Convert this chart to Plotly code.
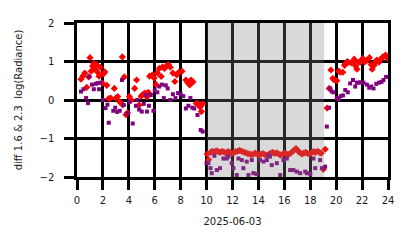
import plotly.graph_objects as go

# Red series (diamonds): diff 1.6
red_x = [0.31, 0.45, 0.6, 0.75, 0.9, 1.0, 1.1, 1.2, 1.3, 1.4, 1.5, 1.6, 1.7, 1.8, 1.95, 2.05, 2.15, 2.3, 2.45, 2.6,
         2.88, 3.0, 3.14, 3.3, 3.5, 3.53, 3.65, 3.78, 3.9, 4.04, 4.2, 4.45, 4.6, 4.8, 4.95, 5.1, 5.25, 5.4, 5.5, 5.6,
         5.8, 5.95, 6.1, 6.2, 6.35, 6.5, 6.6, 6.75, 6.9, 7.05, 7.2, 7.4, 7.55, 7.7, 7.85, 8.1, 8.4, 8.55, 8.7, 8.8,
         8.95, 9.2, 9.37, 9.5, 9.6, 9.7,
         10.05, 10.15, 10.3, 10.45, 10.6, 10.75, 10.9, 11.05, 11.2, 11.35, 11.5, 11.65, 11.8, 11.95, 12.1, 12.25,
         12.4, 12.55, 12.7, 12.85, 13.0, 13.15, 13.3, 13.45, 13.6, 13.75, 13.9, 14.05, 14.2, 14.35, 14.5, 14.65,
         14.8, 14.95, 15.1, 15.25, 15.4, 15.55, 15.7, 15.85, 16.0, 16.15, 16.3, 16.45, 16.6, 16.75, 16.9, 17.05,
         17.2, 17.35, 17.5, 17.65, 17.8, 17.95, 18.1, 18.25, 18.4, 18.55, 18.7, 18.85, 19.0, 19.15,
         19.3, 19.46, 19.59, 19.74, 19.85, 20.05, 20.2, 20.31, 20.51, 20.65, 20.72, 20.85, 20.95, 21.16, 21.3,
         21.39, 21.5, 21.6, 21.75, 21.85, 22.0, 22.06, 22.2, 22.37, 22.57, 22.7, 22.78, 22.93, 23.05, 23.14, 23.3,
         23.4, 23.6, 23.81, 23.95]
red_y = [0.54, 0.62, 0.70, 0.33, 0.60, 1.10, 0.75, 0.88, 0.95, 0.80, 0.92, 0.72, 0.62, 0.85, 0.44, 0.68, 0.73, 0.38, 0.04, 0.05,
         0.30, 0.05, 0.09, -0.05, 1.12, -0.13, 0.60, -0.38, -0.33, 0.09, 0.00, 0.30, 0.52, -0.13, 0.10, 0.15, 0.18, 0.08, 0.20, 0.62,
         0.65, 0.57, 0.40, 0.70, 0.82, 0.61, 0.86, 0.82, 0.88, 0.92, 0.85, 0.70, 0.48, 0.65, 0.72, 0.75, 0.52, 0.45, 0.39, 0.52,
         0.47, -0.09, -0.10, -0.18, -0.30, -0.10,
         -1.40, -1.55, -1.36, -1.33, -1.35, -1.32, -1.34, -1.36, -1.33, -1.35, -1.38, -1.34, -1.36, -1.39, -1.37, -1.34,
         -1.33, -1.31, -1.33, -1.35, -1.37, -1.39, -1.40, -1.42, -1.41, -1.38, -1.40, -1.43, -1.41, -1.39, -1.42, -1.44,
         -1.41, -1.38, -1.36, -1.39, -1.37, -1.40, -1.43, -1.41, -1.38, -1.40, -1.42, -1.39, -1.35, -1.30, -1.26, -1.32,
         -1.37, -1.40, -1.38, -1.36, -1.39, -1.41, -1.37, -1.34, -1.36, -1.33, -1.36, -1.38, -1.80, -1.28,
         -0.21, 0.30, 0.78, 0.56, 0.52, 0.50, 0.75, 0.72, 0.72, 0.90, 0.94, 1.00, 0.98, 0.96, 0.99,
         1.06, 0.88, 0.80, 0.98, 0.98, 1.05, 1.08, 0.99, 1.03, 1.10, 0.92, 0.80, 0.90, 1.00, 1.04, 0.98,
         1.05, 1.12, 1.17, 1.08]

# Purple series (squares): diff 2.3
pur_x = [0.31, 0.5, 0.7, 0.85, 0.95, 1.16, 1.3, 1.45, 1.6, 1.7, 1.8, 2.0, 2.2, 2.35, 2.45, 2.8, 2.95, 3.1, 3.3, 3.47,
         3.6, 3.9, 4.05, 4.3, 4.55, 4.65, 4.8, 5.0, 5.15, 5.3, 5.4, 5.55, 5.7, 5.9, 6.0, 6.2, 6.35, 6.55, 6.7, 6.85,
         7.0, 7.2, 7.4, 7.6, 7.8, 8.0, 8.2, 8.4, 8.6, 8.75, 8.9, 9.05, 9.3, 9.55, 9.7,
         10.0, 10.14, 10.3, 10.4, 10.6, 10.79, 11.04, 11.3, 11.56, 11.69, 11.94, 12.07, 12.33, 12.46, 12.72, 12.84,
         13.1, 13.23, 13.49, 13.61, 13.85, 14.13, 14.39, 14.65, 14.77, 14.9, 15.03, 15.42, 15.68, 15.93, 16.19,
         16.45, 16.7, 16.96, 17.22, 17.61, 17.74, 18.0, 18.25, 18.38, 18.76, 18.9, 19.15,
         19.28, 19.46, 19.55, 19.65, 19.8, 20.05, 20.2, 20.35, 20.52, 20.7, 20.9, 21.08, 21.3, 21.47, 21.6, 21.73,
         21.9, 22.11, 22.37, 22.55, 22.7, 22.88, 23.1, 23.3, 23.5, 23.65, 23.85]
pur_y = [0.22, 0.28, 0.05, -0.08, 0.61, 0.40, 0.28, 0.42, 0.44, 0.28, 0.45, 0.00, -0.21, -0.12, -0.59, -0.28, -0.20, -0.31, -0.28, 0.52,
         -0.13, -0.35, -0.05, -0.61, -0.15, 0.00, -0.25, -0.30, -0.10, 0.13, -0.30, -0.15, 0.13, -0.28, 0.25, 0.20, 0.35, 0.40, 0.05, 0.38,
         0.30, 0.00, 0.15, 0.05, 0.18, 0.15, 0.10, -0.22, -0.15, 0.05, -0.20, -0.22, -0.39, -0.78, -0.82,
         -1.64, -1.64, -1.77, -1.90, -1.45, -1.82, -1.77, -1.52, -1.52, -1.47, -1.64, -1.77, -1.95, -1.52, -1.56, -1.77,
         -1.60, -1.95, -1.56, -1.90, -1.92, -1.56, -1.60, -1.56, -1.43, -1.47, -1.69, -1.64, -1.95, -1.56, -1.52,
         -1.82, -1.82, -1.86, -1.90, -1.86, -1.90, -1.92, -1.52, -1.77, -1.56, -1.77, -1.73,
         -0.69, -0.20, 0.30, 0.22, 0.20, 0.05, 0.02, 0.10, 0.12, 0.26, 0.20, 0.43, 0.52, 0.35, 0.45, 0.45,
         0.46, 0.45, 0.40, 0.32, 0.35, 0.30, 0.42, 0.45, 0.47, 0.52, 0.60]

x_ticks = [0, 2, 4, 6, 8, 10, 12, 14, 16, 18, 20, 22, 24]
y_ticks = [-2, -1, 0, 1, 2]
y_tick_labels = ["\u22122", "\u22121", "0", "1", "2"]
shade_start, shade_end = 10.05, 19.07

FONT = "DejaVu Sans"
TXT = "#1a1a1a"

fig = go.Figure()
fig.add_trace(go.Scatter(x=red_x, y=red_y, mode="markers",
                         marker=dict(symbol="diamond", size=5.5, color="#ff0000", line=dict(width=0)),
                         showlegend=False))
fig.add_trace(go.Scatter(x=pur_x, y=pur_y, mode="markers",
                         marker=dict(symbol="square", size=4, color="#800080", line=dict(width=0)),
                         showlegend=False))

fig.add_shape(type="rect", xref="x", yref="y domain", x0=shade_start, x1=shade_end, y0=0, y1=1,
              fillcolor="#808080", opacity=0.3, line=dict(width=0), layer="above")

axis_common = dict(showgrid=True, gridcolor="black", gridwidth=2.5,
                   ticks="outside", ticklen=10, tickwidth=2.5, tickcolor="black",
                   showline=True, linecolor="black", linewidth=2.5, mirror=True,
                   zeroline=False, tickfont=dict(family=FONT, size=10, color=TXT))

fig.update_xaxes(range=[0, 24], tickvals=x_ticks, ticktext=[str(v) for v in x_ticks],
                 ticklabelstandoff=2,
                 title=dict(text="2025-06-03", font=dict(family=FONT, size=10, color=TXT), standoff=14),
                 **axis_common)
fig.update_yaxes(range=[-2, 2], tickvals=y_ticks, ticktext=y_tick_labels,
                 ticklabelstandoff=8,
                 title=dict(text="diff 1.6 & 2.3  log(Radiance)", font=dict(family=FONT, size=10, color=TXT), standoff=16),
                 **axis_common)

fig.update_layout(width=414, height=248, margin=dict(l=77, r=26, t=23, b=71),
                  plot_bgcolor="white", paper_bgcolor="white",
                  font=dict(family=FONT, size=10, color=TXT))

fig.write_html("out.html")
